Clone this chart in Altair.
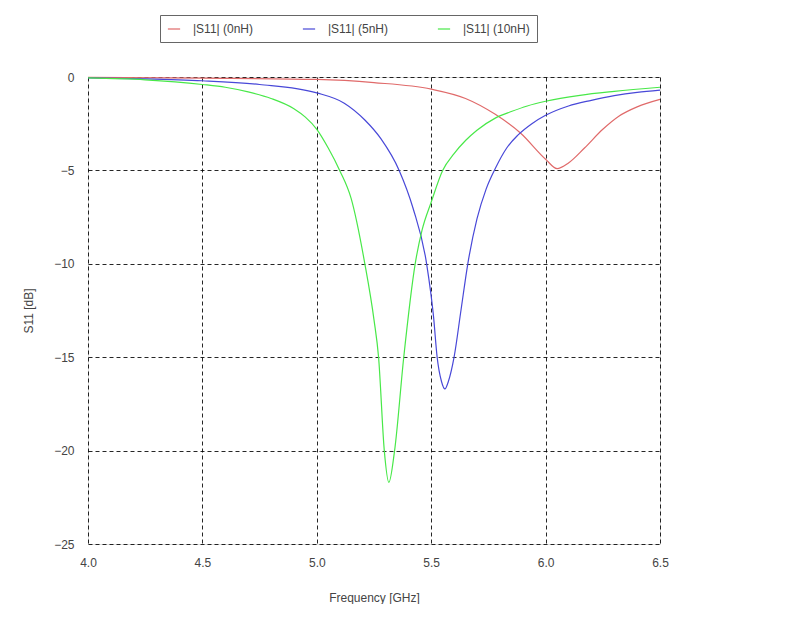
import altair as alt
import pandas as pd

# |S11| (0nH)
f_0nH = [4.0, 4.5, 5.0, 5.25, 5.5, 5.65, 5.78, 5.89, 6.0, 6.05, 6.1, 6.17, 6.25, 6.32, 6.4, 6.5]
s_0nH = [-0.02, -0.06, -0.13, -0.3, -0.65, -1.15, -2.0, -3.0, -4.4, -4.9, -4.6, -3.8, -2.8, -2.1, -1.6, -1.2]

# |S11| (5nH)
f_5nH = [4.0, 4.25, 4.5, 4.75, 5.0, 5.12, 5.21, 5.28, 5.36, 5.42, 5.48, 5.51, 5.526, 5.545, 5.56,
         5.575, 5.60, 5.63, 5.66, 5.70, 5.74, 5.78, 5.83, 5.88, 5.94, 6.0, 6.1, 6.2, 6.3, 6.4, 6.5]
s_5nH = [-0.05, -0.1, -0.2, -0.4, -0.85, -1.4, -2.3, -3.3, -5.0, -7.0, -10.0, -12.8, -15.0, -16.3, -16.7,
         -16.3, -15.0, -12.5, -10.0, -7.6, -6.0, -4.9, -3.8, -3.1, -2.5, -2.05, -1.55, -1.25, -1.0, -0.82, -0.7]

# |S11| (10nH)
f_10nH = [4.0, 4.25, 4.5, 4.6, 4.7, 4.8, 4.9, 4.95, 5.0, 5.05, 5.10, 5.15, 5.21, 5.25, 5.27, 5.295, 5.315,
          5.34, 5.38, 5.43, 5.46, 5.5, 5.55, 5.6, 5.65, 5.7, 5.78, 5.85, 5.92, 6.0, 6.15, 6.3, 6.5]
s_10nH = [-0.05, -0.15, -0.4, -0.55, -0.8, -1.15, -1.7, -2.15, -2.8, -3.8, -5.0, -6.5, -10.0, -13.0, -15.0, -20.0, -21.7,
          -20.0, -15.0, -10.0, -8.2, -6.7, -5.0, -4.1, -3.4, -2.85, -2.2, -1.85, -1.55, -1.3, -0.98, -0.77, -0.55]

series_names = ["|S11| (0nH)", "|S11| (5nH)", "|S11| (10nH)"]
series_colors = ["#e06a6a", "#4848d8", "#48e848"]
x_ticks = [4.0, 4.5, 5.0, 5.5, 6.0, 6.5]
y_ticks = [0, -5, -10, -15, -20, -25]

rows = []
for name, fs, ss in zip(series_names, [f_0nH, f_5nH, f_10nH], [s_0nH, s_5nH, s_10nH]):
    for i, (f, s) in enumerate(zip(fs, ss)):
        rows.append({"series": name, "freq": f, "s11": s, "order": i})
df = pd.DataFrame(rows)

font = "Liberation Sans"

chart = alt.Chart(df).mark_line(strokeWidth=1.2, interpolate="monotone").encode(
    x=alt.X("freq:Q",
            scale=alt.Scale(domain=[4.0, 6.5], nice=False, zero=False),
            axis=alt.Axis(values=x_ticks, format=".1f", title="Frequency [GHz]",
                          grid=True, gridColor="#000000", gridDash=[4, 3], gridOpacity=0.85,
                          ticks=False, domain=False, labelPadding=13, titlePadding=24,
                          labelFlush=False, labelOverlap=False,
                          labelFont=font, titleFont=font, labelFontSize=12, titleFontSize=12,
                          labelColor="#444444", titleColor="#444444", titleFontWeight="normal")),
    y=alt.Y("s11:Q",
            scale=alt.Scale(domain=[-25, 0], nice=False, zero=False),
            axis=alt.Axis(values=y_ticks, format="d", title="S11 [dB]",
                          grid=True, gridColor="#000000", gridDash=[4, 3], gridOpacity=0.85,
                          ticks=False, domain=False, labelPadding=14, titlePadding=18,
                          labelFlush=False, labelOverlap=False,
                          labelFont=font, titleFont=font, labelFontSize=12, titleFontSize=12,
                          labelColor="#444444", titleColor="#444444", titleFontWeight="normal")),
    color=alt.Color("series:N",
                    scale=alt.Scale(domain=series_names, range=series_colors),
                    legend=alt.Legend(title=None, orient="none", legendX=72, legendY=-62,
                                      direction="horizontal", columns=3,
                                      symbolType="stroke", symbolSize=150, symbolStrokeWidth=1.2,
                                      labelFont=font, labelFontSize=12, labelColor="#444444",
                                      labelOffset=12, columnPadding=46,
                                      strokeColor="#666666", padding=7, fillColor="white")),
    order="order:Q",
    detail="series:N",
).properties(
    width=572, height=467,
    autosize=alt.AutoSizeParams(type="none"),
    padding={"left": 80, "top": 69, "right": 40, "bottom": 60},
).configure_view(
    stroke="#777777", strokeWidth=1.5
).configure(background="white")

chart.save("out.html", embed_options={"renderer": "svg", "actions": False})
